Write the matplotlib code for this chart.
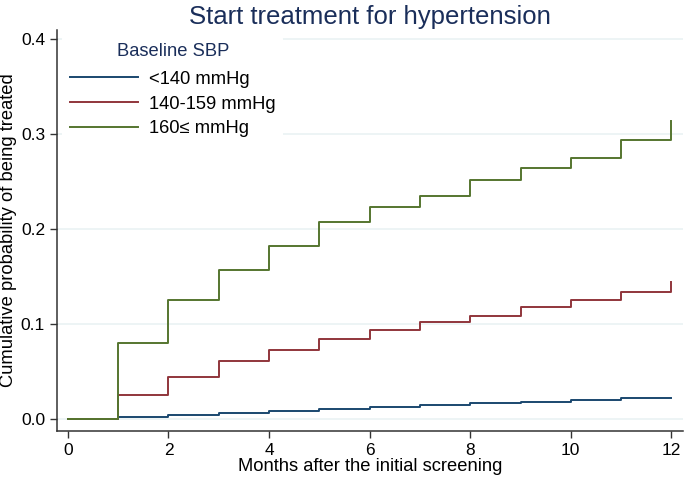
import matplotlib
matplotlib.use('Agg')
import matplotlib.pyplot as plt

plt.rcParams['font.family'] = ['Liberation Sans', 'DejaVu Sans']

months = [0, 1, 2, 3, 4, 5, 6, 7, 8, 9, 10, 11, 12]
sbp_lt140 = [0, 0.003, 0.005, 0.007, 0.009, 0.011, 0.013, 0.015, 0.017, 0.0185, 0.020, 0.022, 0.023]
sbp_140_159 = [0, 0.0255, 0.045, 0.061, 0.073, 0.084, 0.094, 0.102, 0.109, 0.118, 0.125, 0.1335, 0.144]
sbp_ge160 = [0, 0.080, 0.125, 0.157, 0.182, 0.207, 0.223, 0.235, 0.251, 0.264, 0.274, 0.293, 0.313]
labels = ['<140 mmHg', '140-159 mmHg', '160\u2264 mmHg']
colors = ['#1a476f', '#90353b', '#55752f']

fig = plt.figure(figsize=(6.85, 4.83), dpi=100)
ax = fig.add_axes([0.083, 0.108, 0.914, 0.83])

for y, lab, c in zip([sbp_lt140, sbp_140_159, sbp_ge160], labels, colors):
    ax.plot(months, y, drawstyle='steps-post', color=c, lw=1.4, label=lab)

ax.set_xlim(-0.22, 12.23)
ax.set_ylim(-0.012, 0.409)
ax.set_xticks(range(0, 13, 2))
ax.set_yticks([0, 0.1, 0.2, 0.3, 0.4])
ax.set_yticklabels(['0.0', '0.1', '0.2', '0.3', '0.4'])
ax.grid(axis='y', color='#eaf2f3', lw=1.2)
ax.set_axisbelow(True)
for s in ['top', 'right']:
    ax.spines[s].set_visible(False)
for s in ['left', 'bottom']:
    ax.spines[s].set_color('#333333')
    ax.spines[s].set_linewidth(1.1)
ax.tick_params(length=5, width=1, color='#333333', labelsize=12.5)

ax.set_xlabel('Months after the initial screening', fontsize=13.2, labelpad=0)
ax.set_ylabel('Cumulative probability of being treated', fontsize=13.2, labelpad=3)
ax.set_title('Start treatment for hypertension', fontsize=18.5, color='#1a2e5a', pad=4)

leg = ax.legend(loc='upper left', bbox_to_anchor=(0.0, 1.0), title='Baseline SBP',
                fontsize=13.2, title_fontsize=13.2, frameon=True, framealpha=1,
                edgecolor='none', handlelength=3.7, handletextpad=0.65,
                labelspacing=0.42, borderaxespad=0.3)
leg.get_title().set_color('#1a2e5a')
leg._legend_box.sep = 8

fig.savefig('out.png', dpi=100)
